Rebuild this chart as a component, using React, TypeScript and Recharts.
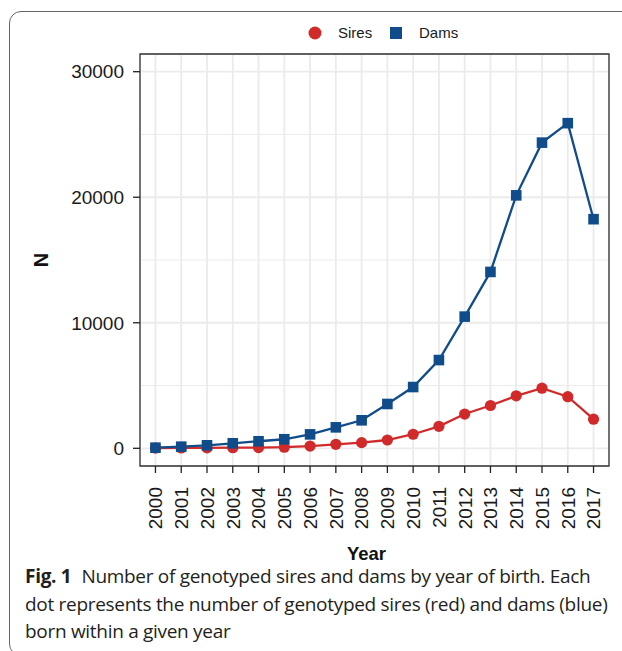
import { LineChart, Line, XAxis, YAxis, CartesianGrid, ReferenceArea, Label } from 'recharts';

// data
const years = [2000, 2001, 2002, 2003, 2004, 2005, 2006, 2007, 2008, 2009, 2010, 2011, 2012, 2013, 2014, 2015, 2016, 2017];
const sires = [20, 30, 40, 50, 60, 90, 180, 320, 450, 660, 1120, 1750, 2730, 3410, 4180, 4790, 4110, 2320];
const dams = [50, 130, 240, 400, 560, 720, 1110, 1670, 2230, 3530, 4880, 7030, 10490, 14050, 20150, 24350, 25900, 18250];
const yTicks = [0, 10000, 20000, 30000];
const yMinor = [5000, 15000, 25000];
const captionLines = [
  'Number of genotyped sires and dams by year of birth. Each',
  'dot represents the number of genotyped sires (red) and dams (blue)',
  'born within a given year',
];

const data = years.map((year, i) => ({ year, Sires: sires[i], Dams: dams[i] }));

const RED = '#d12a2a';
const BLUE = '#114c8a';
const X_DOMAIN = [1999.4, 2017.6];
const Y_DOMAIN = [-1410, 31410];
const FONT = "'Liberation Sans', Arial, sans-serif";

function CircleDot(props: any) {
  const { cx, cy } = props;
  if (cx == null || cy == null) return null;
  return <circle cx={cx} cy={cy} r={5.6} fill={RED} />;
}

function SquareDot(props: any) {
  const { cx, cy } = props;
  if (cx == null || cy == null) return null;
  return <rect x={cx - 5.3} y={cy - 5.3} width={10.6} height={10.6} fill={BLUE} />;
}

function YearTick({ x, y, payload }: any) {
  return (
    <g transform={`translate(${x},${y})`}>
      <text transform="rotate(-90)" textAnchor="end" dy="0.36em" fontSize={19} fill="#1a1a1a" fontFamily={FONT}>
        {payload.value}
      </text>
    </g>
  );
}

export default function App() {
  return (
    <div style={{ position: 'absolute', left: 0, top: 0, width: 622, height: 651, background: '#fff', overflow: 'hidden', fontFamily: FONT }}>
      {/* figure frame */}
      <div
        style={{
          position: 'absolute',
          left: 9,
          top: 11,
          width: 640,
          height: 645,
          border: '1.5px solid #666',
          borderRadius: 12,
          boxSizing: 'border-box',
        }}
      />

      {/* legend */}
      <div style={{ position: 'absolute', top: 24, left: 0, width: 622, height: 20, fontSize: 15, color: '#1a1a1a' }}>
        <svg width={14} height={14} style={{ position: 'absolute', left: 308, top: 2 }}>
          <circle cx={7} cy={7} r={6.5} fill={RED} />
        </svg>
        <span style={{ position: 'absolute', left: 338, top: 0 }}>Sires</span>
        <svg width={14} height={14} style={{ position: 'absolute', left: 389, top: 2 }}>
          <rect x={1} y={1} width={12} height={12} fill={BLUE} />
        </svg>
        <span style={{ position: 'absolute', left: 419, top: 0 }}>Dams</span>
      </div>

      <div style={{ position: 'absolute', left: 0, top: 0 }}>
        <LineChart width={622} height={580} data={data} margin={{ top: 54, right: 13, bottom: 0, left: 0 }}>
          <CartesianGrid vertical={false} horizontalValues={yMinor} stroke="#ececec" strokeWidth={1} />
          <CartesianGrid stroke="#ebebeb" strokeWidth={1.8} />
          <XAxis
            dataKey="year"
            type="number"
            domain={X_DOMAIN}
            ticks={years}
            interval={0}
            allowDataOverflow
            height={114}
            tickSize={7}
            tickMargin={14}
            tickLine={{ stroke: '#222', strokeWidth: 1.3 }}
            axisLine={false}
            tick={<YearTick />}
          >
            <Label
              content={(p: any) => {
                const vb = p.viewBox || { x: 140, y: 466, width: 469, height: 114 };
                return (
                  <text x={vb.x + vb.width / 2 - 8} y={vb.y + 94} textAnchor="middle" fontSize={18.5} fontWeight="bold" fill="#111" fontFamily={FONT}>
                    Year
                  </text>
                );
              }}
            />
          </XAxis>
          <YAxis
            type="number"
            domain={Y_DOMAIN}
            ticks={yTicks}
            allowDataOverflow
            width={140}
            tickSize={7}
            tickMargin={9}
            tickLine={{ stroke: '#222', strokeWidth: 1.3 }}
            axisLine={false}
            tick={{ fontSize: 19, fill: '#1a1a1a', fontFamily: FONT }}
          >
            <Label
              content={(p: any) => {
                const vb = p.viewBox || { x: 0, y: 54, width: 140, height: 412 };
                const cx = vb.x + 41;
                const cy = vb.y + vb.height / 2;
                return (
                  <text x={cx} y={cy} transform={`rotate(-90, ${cx}, ${cy})`} textAnchor="middle" dominantBaseline="central" fontSize={20} fontWeight="bold" fill="#111" fontFamily={FONT}>
                    N
                  </text>
                );
              }}
            />
          </YAxis>
          <ReferenceArea x1={X_DOMAIN[0]} x2={X_DOMAIN[1]} y1={Y_DOMAIN[0]} y2={Y_DOMAIN[1]} fill="none" stroke="#333" strokeWidth={1.3} fillOpacity={0} strokeOpacity={1} ifOverflow="visible" />
          <Line dataKey="Sires" stroke={RED} strokeWidth={2.3} dot={<CircleDot />} activeDot={false} isAnimationActive={false} />
          <Line dataKey="Dams" stroke={BLUE} strokeWidth={2.3} dot={<SquareDot />} activeDot={false} isAnimationActive={false} />
        </LineChart>
      </div>

      {/* caption */}
      <div
        style={{
          position: 'absolute',
          left: 25,
          top: 563,
          width: 595,
          fontFamily: "'Open Sans', sans-serif",
          fontSize: 19,
          lineHeight: '27.5px',
          color: '#231f20',
          letterSpacing: -0.3,
          whiteSpace: 'nowrap',
        }}
      >
        <div>
          <b>Fig. 1</b>
          <span style={{ marginLeft: 10 }}>{captionLines[0]}</span>
        </div>
        <div>{captionLines[1]}</div>
        <div>{captionLines[2]}</div>
      </div>
    </div>
  );
}
